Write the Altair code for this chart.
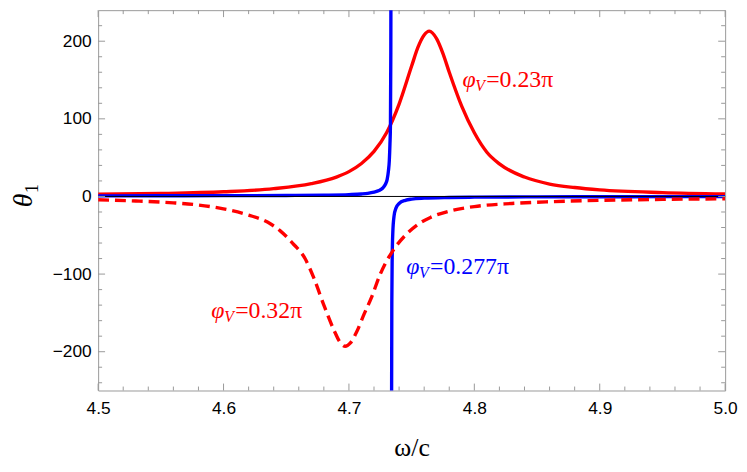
import altair as alt
import pandas as pd

# ---- curve data ----
# phi_V = 0.23 pi (red, solid)
X_RED = [4.50, 4.55, 4.60, 4.64, 4.67, 4.69, 4.70, 4.71, 4.72, 4.73, 4.74, 4.75,
         4.755, 4.76, 4.764, 4.77, 4.775, 4.78, 4.79, 4.80, 4.81, 4.82, 4.84,
         4.86, 4.88, 4.90, 4.95, 5.00]
Y_RED = [2.8, 3.8, 6.0, 10.0, 16.5, 25.0, 32.0, 42.5, 58.0, 82.0, 119.0, 168.0,
         192.0, 208.0, 213.0, 203.0, 184.0, 160.0, 116.0, 82.0, 57.0, 42.0, 25.0,
         16.0, 11.5, 8.5, 5.0, 3.3]

# phi_V = 0.32 pi (red, dashed)
X_DASH = [4.50, 4.53, 4.56, 4.58, 4.60, 4.62, 4.635, 4.645, 4.655, 4.665, 4.672,
          4.68, 4.688, 4.693, 4.697, 4.701, 4.706, 4.712, 4.718, 4.725, 4.735,
          4.745, 4.755, 4.765, 4.78, 4.80, 4.83, 4.86, 4.90, 4.95, 5.00]
Y_DASH = [-4.3, -5.8, -8.2, -11.0, -16.0, -24.0, -33.0, -44.0, -60.0, -80.0, -105.0,
          -140.0, -172.0, -188.0, -193.0, -189.0, -175.0, -152.0, -130.0, -100.0, -70.0,
          -50.0, -36.0, -27.0, -19.0, -13.0, -9.0, -6.8, -5.0, -3.8, -3.0]

# phi_V = 0.277 pi (blue), left and right branches of the pole
X_BLUE_L = [4.50, 4.55, 4.60, 4.65, 4.68, 4.70, 4.71, 4.715, 4.72, 4.724, 4.727,
            4.729, 4.7305, 4.7315, 4.7322, 4.7327, 4.7331, 4.7334, 4.7336]
Y_BLUE_L = [0.8, 0.9, 1.0, 1.3, 1.7, 2.4, 3.2, 4.0, 5.5, 7.6, 10.9,
            15.4, 22.0, 33.0, 46.0, 67.0, 92.0, 185.0, 370.0]
X_BLUE_R = [4.7340, 4.7342, 4.7345, 4.735, 4.736, 4.7375, 4.74, 4.745, 4.75,
            4.76, 4.78, 4.80, 4.85, 4.90, 4.95, 5.00]
Y_BLUE_R = [-275.0, -137.0, -79.0, -46.0, -25.0, -15.0, -9.0, -5.0, -3.4,
            -2.2, -1.3, -0.9, -0.5, -0.35, -0.25, -0.2]

# ---- ticks ----
X_MAJOR = [4.5, 4.6, 4.7, 4.8, 4.9, 5.0]
X_MINOR = [4.52, 4.54, 4.56, 4.58, 4.62, 4.64, 4.66, 4.68, 4.72, 4.74, 4.76, 4.78,
           4.82, 4.84, 4.86, 4.88, 4.92, 4.94, 4.96, 4.98]
Y_MAJOR = [-200, -100, 0, 100, 200]
Y_MINOR = [-240, -220, -180, -160, -140, -120, -80, -60, -40, -20,
           20, 40, 60, 80, 120, 140, 160, 180, 220]

# ---- curve labels ----
LABEL_X = [4.7905, 4.7457, 4.5903]
LABEL_Y = [140.5, -99.4, -156.8]
LABEL_TEXT = ["=0.23π", "=0.277π", "=0.32π"]
LABEL_COLOR = ["#ff0000", "#0000ff", "#ff0000"]

W, H = 633, 384
RED = "#ff0000"
BLUE = "#0000ff"
FRAME = "#999999"
SERIF = "Liberation Serif"
SANS = "Liberation Sans"
LW = 3.4

xs = alt.Scale(domain=[4.5, 5.0], nice=False, zero=False)
ys = alt.Scale(domain=[-250, 240], nice=False, zero=False)

xax = alt.Axis(values=X_MAJOR, format=".1f", ticks=False, domain=False, grid=False,
               labelFont=SANS, labelFontSize=17.5, labelColor="#000000", labelPadding=9.5,
               labelFlush=False, title="ω/c", titleFont=SERIF, titleFontSize=26,
               titleFontWeight="normal", titleColor="#000000", titleBaseline="alphabetic",
               titleY=66)
yax = alt.Axis(values=Y_MAJOR, format="d", ticks=False, domain=False, grid=False,
               labelFont=SANS, labelFontSize=17.5, labelColor="#000000", labelPadding=7,
               labelFlush=False, title=None)

X = lambda: alt.X("x:Q", scale=xs, axis=xax)
Y = lambda: alt.Y("y:Q", scale=ys, axis=yax)

df_red = pd.DataFrame({"x": X_RED, "y": Y_RED})
df_dash = pd.DataFrame({"x": X_DASH, "y": Y_DASH})
df_blue = pd.concat([
    pd.DataFrame({"x": X_BLUE_L, "y": Y_BLUE_L, "b": "L"}),
    pd.DataFrame({"x": X_BLUE_R, "y": Y_BLUE_R, "b": "R"}),
])

red = alt.Chart(df_red).mark_line(color=RED, strokeWidth=LW, interpolate="monotone",
                                  clip=True).encode(x=X(), y=Y())
blue = alt.Chart(df_blue).mark_line(color=BLUE, strokeWidth=LW, interpolate="monotone",
                                    clip=True).encode(x=X(), y=Y(), detail="b:N")
dash = alt.Chart(df_dash).mark_line(color=RED, strokeWidth=LW, interpolate="monotone",
                                    strokeDash=[11, 6], clip=True).encode(x=X(), y=Y())
zero = alt.Chart(pd.DataFrame({"y": [0]})).mark_rule(color="black", strokeWidth=1).encode(y=Y())

# frame ticks (inward, all four sides)
def xticks(vals, ln):
    d = pd.DataFrame({"x": vals})
    b = alt.Chart(d).mark_rule(color=FRAME, strokeWidth=1).encode(
        x=X(), y=alt.value(H), y2=alt.value(H - ln))
    t = alt.Chart(d).mark_rule(color=FRAME, strokeWidth=1).encode(
        x=X(), y=alt.value(0), y2=alt.value(ln))
    return [b, t]

def yticks(vals, ln):
    d = pd.DataFrame({"y": vals})
    l = alt.Chart(d).mark_rule(color=FRAME, strokeWidth=1).encode(
        y=Y(), x=alt.value(0), x2=alt.value(ln))
    r = alt.Chart(d).mark_rule(color=FRAME, strokeWidth=1).encode(
        y=Y(), x=alt.value(W), x2=alt.value(W - ln))
    return [l, r]

ticks = xticks(X_MAJOR, 7) + xticks(X_MINOR, 4) + yticks(Y_MAJOR, 7) + yticks(Y_MINOR, 4)

# curve labels
df_lab = pd.DataFrame({"x": LABEL_X, "y": LABEL_Y, "t": LABEL_TEXT, "c": LABEL_COLOR})
lab_base = alt.Chart(df_lab).encode(x=X(), y=Y(), color=alt.Color("c:N", scale=None))
lab_phi = lab_base.mark_text(text="φ", font=SERIF, fontStyle="italic", fontSize=24,
                             align="left", baseline="alphabetic")
lab_v = lab_base.mark_text(text="V", font=SERIF, fontStyle="italic", fontSize=16,
                           align="left", baseline="alphabetic", dx=13, dy=4)
lab_rest = lab_base.mark_text(font=SERIF, fontSize=24, align="left",
                              baseline="alphabetic", dx=24).encode(text="t:N")

# y-axis title θ with subscript 1 (rotated)
theta = alt.Chart(pd.DataFrame({"s": ["θ"]})).mark_text(
    font=SERIF, fontStyle="italic", fontSize=28, angle=270, align="center",
    baseline="alphabetic", color="black").encode(text="s:N", x=alt.value(-67), y=alt.value(192))
one = alt.Chart(pd.DataFrame({"s": ["1"]})).mark_text(
    font=SERIF, fontSize=18, angle=270, align="center",
    baseline="alphabetic", color="black").encode(text="s:N", x=alt.value(-61), y=alt.value(180))

chart = alt.layer(
    red, blue, dash, zero, *ticks, lab_phi, lab_v, lab_rest, theta, one
).properties(
    width=W, height=H,
    padding={"left": 91, "top": 0, "right": 14, "bottom": 72},
    autosize=alt.AutoSizeParams(type="none"),
).configure_view(stroke=FRAME, strokeWidth=1)

chart.save("out.html", embed_options={"renderer": "svg", "actions": False})
